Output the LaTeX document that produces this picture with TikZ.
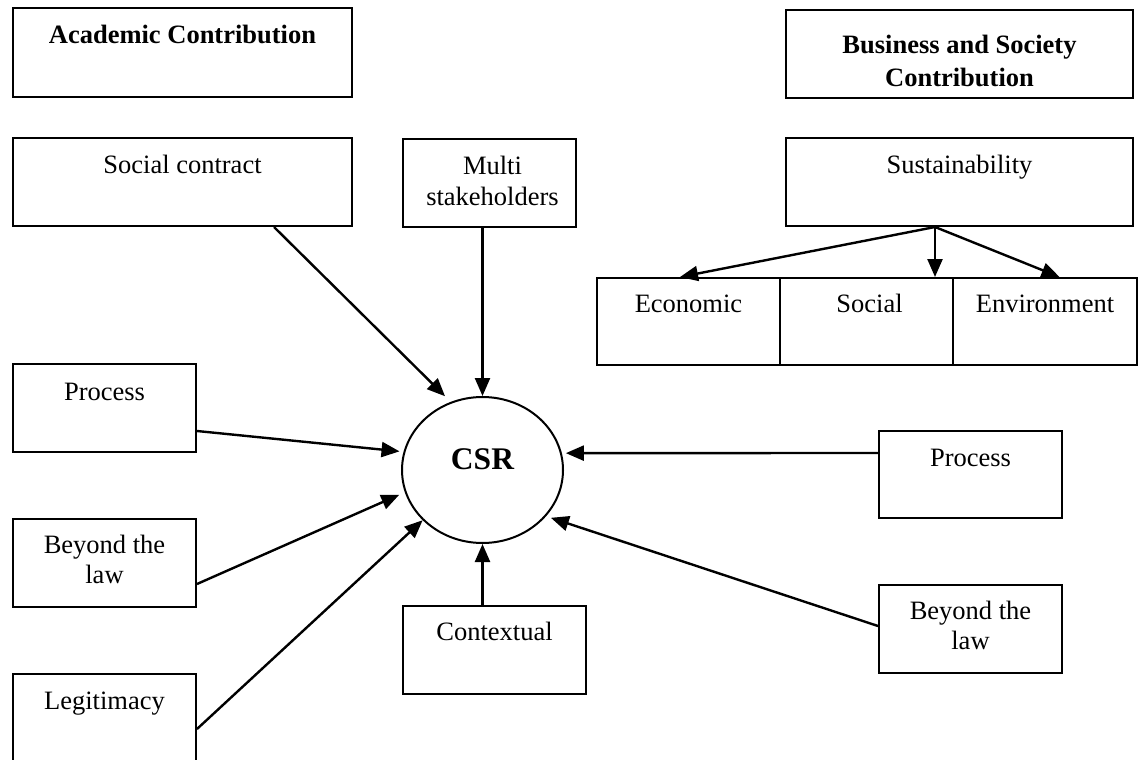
\documentclass[tikz,border=0pt]{standalone}
\usepackage{fontspec}
\setmainfont{Liberation Serif}
\usetikzlibrary{arrows.meta,shapes.geometric}

\begin{document}
\begin{tikzpicture}[x=1pt,y=-1pt,
  box/.style={draw, line width=2pt, rectangle, inner sep=0pt, anchor=north west},
  txt/.style={anchor=base, inner sep=0pt, align=center, font=\fontsize{26.5}{30.5}\selectfont},
  head/.style={txt, font=\bfseries\fontsize{26.5}{33}\selectfont},
  arr/.style={line width=2.4pt, -{Triangle[length=18pt,width=15pt]}},
]
\useasboundingbox[fill=white] (0,0) rectangle (1138,760);

% boxes
\node[box, minimum width=339pt, minimum height=89pt] (acad)  at (12,7)    {};
\node[box, minimum width=347pt, minimum height=88pt] (bus)   at (785,9)   {};
\node[box, minimum width=339pt, minimum height=88pt] (soc)   at (12,137)  {};
\node[box, minimum width=173pt, minimum height=88pt] (multi) at (402,138) {};
\node[box, minimum width=347pt, minimum height=88pt] (sus)   at (785,137) {};
\node[box, minimum width=183pt, minimum height=87pt] (econ)  at (596,277) {};
\node[box, minimum width=173pt, minimum height=87pt] (socl)  at (779,277) {};
\node[box, minimum width=184pt, minimum height=87pt] (env)   at (952,277) {};
\node[box, minimum width=183pt, minimum height=88pt] (procL) at (12,363)  {};
\node[box, minimum width=183pt, minimum height=88pt] (beyL)  at (12,518)  {};
\node[box, minimum width=183pt, minimum height=88pt] (legit) at (12,673)  {};
\node[box, minimum width=183pt, minimum height=88pt] (ctx)   at (402,605) {};
\node[box, minimum width=183pt, minimum height=87pt] (procR) at (878,430) {};
\node[box, minimum width=183pt, minimum height=88pt] (beyR)  at (878,584) {};

% central ellipse
\node[draw, ellipse, line width=2pt, inner sep=0pt, minimum width=161pt, minimum height=146pt] (csr) at (482.5,470) {};
\node[anchor=base, inner sep=0pt, font=\bfseries\fontsize{31.5}{36}\selectfont] (csrtext) at ([yshift=1pt]csr.center) {CSR};

% box texts (base of a two-line node is its last line)
\node[head] (tacad) at ([yshift=-37pt]acad.north) {Academic Contribution};
\node[head] (tbus)  at ([yshift=-78pt]bus.north) {Business and Society\\Contribution};
\node[txt] (tsoc)   at ([yshift=-36pt]soc.north) {Social contract};
\node[txt] (tmulti) at ([xshift=3pt,yshift=-67pt]multi.north) {Multi\\stakeholders};
\node[txt] (tsus)   at ([yshift=-36pt]sus.north) {Sustainability};
\node[txt] (tecon)  at ([yshift=-35pt]econ.north) {Economic};
\node[txt] (tsocl)  at ([xshift=3pt,yshift=-35pt]socl.north) {Social};
\node[txt] (tenv)   at ([yshift=-35pt]env.north) {Environment};
\node[txt] (tprocL) at ([yshift=-37pt]procL.north) {Process};
\node[txt] (tbeyL)  at ([yshift=-65.5pt]beyL.north) {Beyond the\\law};
\node[txt] (tlegit) at ([yshift=-36pt]legit.north) {Legitimacy};
\node[txt] (tctx)   at ([yshift=-35pt]ctx.north) {Contextual};
\node[txt] (tprocR) at ([yshift=-36pt]procR.north) {Process};
\node[txt] (tbeyR)  at ([yshift=-65.5pt]beyR.north) {Beyond the\\law};

% sustainability pillars
\draw[arr] ([xshift=-24.5pt]sus.south) -- ([xshift=-8.5pt]econ.north);
\draw[arr] ([xshift=-24.5pt]sus.south) -- ([xshift=68.5pt]socl.north);
\draw[arr] ([xshift=-24.5pt]sus.south) -- ([xshift=14.5pt]env.north);

% contributions to CSR
\draw[arr, shorten >=8pt] ([xshift=91.5pt]soc.south) -- (csr.115.6);
\draw[arr] (csr.north |- multi.south) -- (csr.north);
\draw[arr, shorten >=4pt] ([yshift=-23pt]procL.east) -- (csr.167.7);
\draw[arr, shorten >=6pt] ([yshift=-21pt]beyL.east) -- (csr.196.9);
\draw[arr] ([yshift=-11pt]legit.east) -- (csr.220.4);
\draw[arr] (csr.south |- ctx.north) -- (csr.south);
\draw[arr, shorten >=4pt] ([yshift=21.5pt]procR.west) -- (csr.12.3);
\draw[arr, shorten >=5pt] ([yshift=3pt]beyR.west) -- (csr.324.6);
\end{tikzpicture}
\end{document}
